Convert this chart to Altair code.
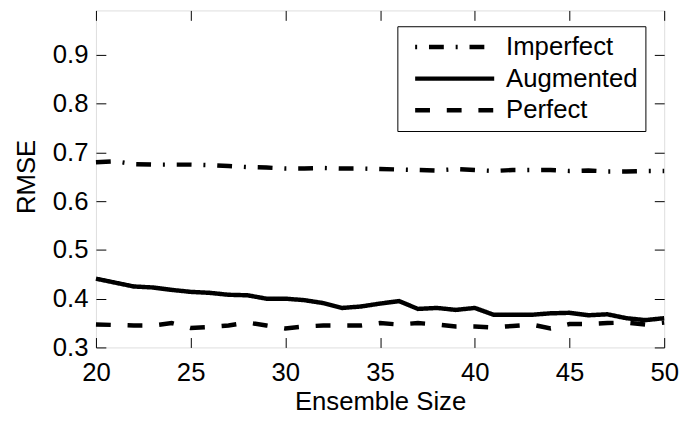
import altair as alt
import pandas as pd

sizes = list(range(20, 51))
imperfect = [0.680, 0.682, 0.676, 0.675, 0.675, 0.675, 0.674, 0.672, 0.670, 0.669,
             0.667, 0.667, 0.668, 0.667, 0.667, 0.666, 0.665, 0.664, 0.663, 0.666,
             0.664, 0.662, 0.664, 0.664, 0.664, 0.662, 0.663, 0.661, 0.661, 0.662, 0.662]
augmented = [0.441, 0.433, 0.425, 0.423, 0.418, 0.414, 0.412, 0.408, 0.407, 0.400,
             0.400, 0.397, 0.391, 0.381, 0.384, 0.390, 0.395, 0.379, 0.381, 0.377,
             0.381, 0.367, 0.367, 0.367, 0.370, 0.371, 0.366, 0.368, 0.360, 0.356, 0.360]
perfect = [0.347, 0.346, 0.345, 0.345, 0.350, 0.340, 0.342, 0.345, 0.351, 0.345,
           0.339, 0.343, 0.345, 0.345, 0.345, 0.350, 0.347, 0.350, 0.347, 0.343,
           0.343, 0.341, 0.344, 0.347, 0.339, 0.348, 0.348, 0.350, 0.351, 0.347, 0.351]
series_names = ["Imperfect", "Augmented", "Perfect"]
x_ticks = [20, 25, 30, 35, 40, 45, 50]
y_ticks = [0.3, 0.4, 0.5, 0.6, 0.7, 0.8, 0.9]

rows = []
for name, vals in zip(series_names, [imperfect, augmented, perfect]):
    for s, v in zip(sizes, vals):
        rows.append({"size": s, "rmse": v, "series": name})
df = pd.DataFrame(rows)

FONT = "Liberation Sans"
W, H = 575, 341
xs = alt.Scale(domain=[20, 50], nice=False, zero=False)
ys = alt.Scale(domain=[0.3, 0.9913], nice=False, zero=False)
inward = alt.ExprRef(expr="-10")

lines = alt.Chart(df).mark_line(color="black", strokeWidth=4.5, strokeCap="butt").encode(
    x=alt.X("size:Q", scale=xs,
            axis=alt.Axis(values=x_ticks, title="Ensemble Size", domain=False,
                          tickSize=inward, tickColor="black", labelPadding=22,
                          labelFlush=False,
                          labelFontSize=26, labelFont=FONT, labelColor="black",
                          titleFontSize=26, titleFont=FONT, titleColor="black",
                          titleFontWeight="normal", titleBaseline="alphabetic",
                          titleY=63, grid=False)),
    y=alt.Y("rmse:Q", scale=ys,
            axis=alt.Axis(values=y_ticks, format=".1f", title="RMSE", domain=False,
                          tickSize=inward, tickColor="black", labelPadding=18,
                          labelFontSize=26, labelFont=FONT, labelColor="black",
                          titleFontSize=26, titleFont=FONT, titleColor="black",
                          titleFontWeight="normal", titleAngle=-90,
                          titleBaseline="alphabetic", titleAlign="center",
                          titleX=-62, titleY=168, grid=False)),
    strokeDash=alt.StrokeDash(
        "series:N",
        scale=alt.Scale(domain=series_names,
                        range=[[15, 12, 2, 12], [1, 0], [15, 17]]),
        sort=series_names,
        legend=alt.Legend(title=None, orient="none", legendX=305, legendY=16,
                          strokeColor="black", fillColor="white", padding=8,
                          labelFontSize=26, labelFont=FONT, labelColor="black",
                          symbolType="M-1,0H7", symbolSize=400,
                          symbolStrokeWidth=4.5, symbolStrokeColor="black",
                          symbolOffset=7,
                          symbolDashOffset=alt.ExprRef(
                              expr="datum.value === 'Imperfect' ? 27 : 0"),
                          labelOffset=69, rowPadding=6),
    ),
    detail="series:N",
)

mirror = alt.Chart(df).mark_line(opacity=0).encode(
    x=alt.X("size:Q", scale=xs,
            axis=alt.Axis(orient="top", values=x_ticks, labels=False, title=None,
                          domain=False, tickSize=inward, tickColor="black", grid=False)),
    y=alt.Y("rmse:Q", scale=ys,
            axis=alt.Axis(orient="right", values=y_ticks, labels=False, title=None,
                          domain=False, tickSize=inward, tickColor="black", grid=False)),
    detail="series:N",
)

chart = alt.layer(lines, mirror).resolve_axis(x="independent", y="independent").properties(
    width=W, height=H,
    autosize=alt.AutoSizeParams(type="none"),
    padding={"left": 89, "top": 0, "right": 16, "bottom": 74},
).configure_view(stroke="black", strokeWidth=1.2).configure(background="white")

chart.save("out.html", embed_options={"renderer": "svg", "actions": False})
